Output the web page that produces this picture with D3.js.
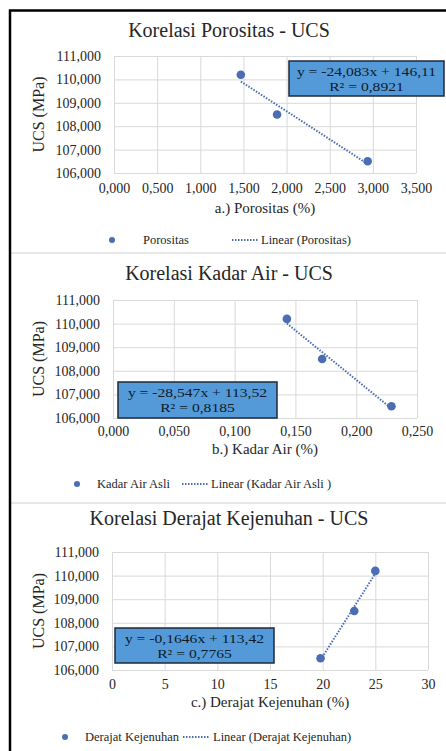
<!DOCTYPE html>
<html>
<head>
<meta charset="utf-8">
<script src="https://cdn.jsdelivr.net/npm/d3@7"></script>
<style>
body { margin: 0; background: #fff; }
text { font-family: "Liberation Serif", "Times New Roman", Tinos, "DejaVu Serif", serif; fill: #262626; }
</style>
</head>
<body>
<svg></svg>
<script>
// UCS (MPa) for the three samples, shared by all panels
var ucs = [110.2, 108.5, 106.5];
var porositas = [1.47, 1.89, 2.94];
var kadarAir = [0.143, 0.172, 0.229];
var derajatKejenuhan = [25.0, 23.0, 19.8];

var yTicks = [106, 107, 108, 109, 110, 111];
var porositasTicks = [0, 0.5, 1, 1.5, 2, 2.5, 3, 3.5];
var kadarAirTicks = [0, 0.05, 0.1, 0.15, 0.2, 0.25];
var derajatTicks = [0, 5, 10, 15, 20, 25, 30];

var titles = ["Korelasi Porositas - UCS", "Korelasi Kadar Air - UCS", "Korelasi Derajat Kejenuhan - UCS"];
var xTitles = ["a.) Porositas (%)", "b.) Kadar Air (%)", "c.) Derajat Kejenuhan (%)"];
var seriesNames = ["Porositas", "Kadar Air Asli", "Derajat Kejenuhan"];
var trendNames = ["Linear (Porositas)", "Linear (Kadar Air Asli )", "Linear (Derajat Kejenuhan)"];
var equations = [
   ["y = -24,083x + 146,11", "R\u00b2 = 0,8921"],
   ["y = -28,547x + 113,52", "R\u00b2 = 0,8185"],
   ["y = -0,1646x + 113,42", "R\u00b2 = 0,7765"]
];

var width = 446, height = 751;
var dotColor = "#4a6db3";
var gridColor = "#d9d9d9";
var serif = "'Liberation Serif', 'Times New Roman', Tinos, 'DejaVu Serif', serif";

var locale = d3.formatLocale({decimal: ",", thousands: ".", grouping: [3], currency: ["", ""]});

var svg = d3.select("svg")
   .attr("width", width)
   .attr("height", height);

svg.append("rect")
   .attr("width", width)
   .attr("height", height)
   .attr("fill", "#fff");

// layout of each panel
var panels = [
   {x: porositas, ticks: porositasTicks, fmt: ".3f",
    plot: {left: 114, right: 416, top: 56, bottom: 173},
    titleY: 30, tickY: 188, xTitleY: 208, legendY: 240,
    legend: {dot: 112, text: 143, line0: 232, line1: 258, trend: 261},
    box: {x: 289, y: 61, w: 155, h: 35}},
   {x: kadarAir, ticks: kadarAirTicks, fmt: ".3f",
    plot: {left: 113, right: 417, top: 300, bottom: 418},
    titleY: 273, tickY: 431, xTitleY: 449, legendY: 484,
    legend: {dot: 77, text: 97, line0: 182, line1: 208, trend: 211},
    box: {x: 118, y: 382, w: 159, h: 36}},
   {x: derajatKejenuhan, ticks: derajatTicks, fmt: "d",
    plot: {left: 112, right: 428, top: 552, bottom: 670},
    titleY: 518, tickY: 684, xTitleY: 702, legendY: 737,
    legend: {dot: 65, text: 85, line0: 183, line1: 210, trend: 213},
    box: {x: 115, y: 628, w: 159, h: 35}}
];

// separators between the panels
[253, 503].forEach(function(y) {
   svg.append("line")
      .attr("x1", 11).attr("x2", width)
      .attr("y1", y).attr("y2", y)
      .attr("stroke", "#d0d0d0");
});

panels.forEach(function(p, i) {
   var pw = p.plot.right - p.plot.left,
       ph = p.plot.bottom - p.plot.top;

   var xScale = d3.scaleLinear()
      .domain(d3.extent(p.ticks))
      .range([0, pw]);
   var yScale = d3.scaleLinear()
      .domain(d3.extent(yTicks))
      .range([ph, 0]);

   var g = svg.append("g")
      .attr("transform", "translate(" + p.plot.left + "," + p.plot.top + ")");

   // grid
   var xGrid = g.append("g")
      .attr("transform", "translate(0," + ph + ")")
      .call(d3.axisBottom(xScale).tickValues(p.ticks).tickSize(-ph).tickFormat(""));
   var yGrid = g.append("g")
      .call(d3.axisLeft(yScale).tickValues(yTicks).tickSize(-pw).tickFormat(""));
   [xGrid, yGrid].forEach(function(a) {
      a.select(".domain").remove();
      a.selectAll("line").attr("stroke", gridColor);
   });

   // tick labels
   var yAxis = g.append("g")
      .call(d3.axisLeft(yScale).tickValues(yTicks).tickSize(0).tickPadding(13)
         .tickFormat(locale.format(".3f")));
   var xAxis = g.append("g")
      .attr("transform", "translate(0," + ph + ")")
      .call(d3.axisBottom(xScale).tickValues(p.ticks).tickSize(0)
         .tickFormat(locale.format(p.fmt)));
   [xAxis, yAxis].forEach(function(a) {
      a.attr("font-family", serif);
      a.select(".domain").remove();
      a.selectAll("text")
         .attr("fill", "#262626")
         .style("font-size", "14px");
   });
   xAxis.selectAll("text")
      .attr("y", p.tickY - p.plot.bottom)
      .attr("dy", "0.35em");

   // trendline (least squares over the points)
   var pts = p.x.map(function(v, k) { return [v, ucs[k]]; });
   var mx = d3.mean(p.x), my = d3.mean(ucs);
   var slope = d3.sum(pts, function(d) { return (d[0] - mx) * (d[1] - my); }) /
      d3.sum(pts, function(d) { return (d[0] - mx) * (d[0] - mx); });
   var ext = d3.extent(p.x);
   g.append("line")
      .attr("x1", xScale(ext[0]))
      .attr("y1", yScale(my + slope * (ext[0] - mx)))
      .attr("x2", xScale(ext[1]))
      .attr("y2", yScale(my + slope * (ext[1] - mx)))
      .attr("stroke", dotColor)
      .attr("stroke-width", 2)
      .attr("stroke-dasharray", "1.5,1.5");

   // dots
   g.selectAll("circle")
      .data(pts)
      .enter()
      .append("circle")
      .attr("cx", function(d) { return xScale(d[0]); })
      .attr("cy", function(d) { return yScale(d[1]); })
      .attr("r", 4.3)
      .attr("fill", dotColor);

   // chart title
   svg.append("text")
      .attr("x", 229).attr("y", p.titleY)
      .attr("text-anchor", "middle")
      .attr("dominant-baseline", "central")
      .style("font-size", "20px")
      .text(titles[i]);

   // axis titles
   svg.append("text")
      .attr("x", p.plot.left + pw / 2).attr("y", p.xTitleY)
      .attr("text-anchor", "middle")
      .attr("dominant-baseline", "central")
      .style("font-size", "15px")
      .text(xTitles[i]);
   svg.append("text")
      .attr("transform", "translate(38," + (p.plot.top + ph / 2) + ") rotate(-90)")
      .attr("text-anchor", "middle")
      .attr("dominant-baseline", "central")
      .style("font-size", "16px")
      .text("UCS (MPa)");

   // equation label, text a bit wider than the font like in the source
   svg.append("rect")
      .attr("x", p.box.x).attr("y", p.box.y)
      .attr("width", p.box.w).attr("height", p.box.h)
      .attr("fill", "#559ad8")
      .attr("stroke", "#1e2a3a")
      .attr("stroke-width", 1.5);
   equations[i].forEach(function(line, k) {
      var t = svg.append("text")
         .attr("x", p.box.x + p.box.w / 2)
         .attr("y", p.box.y + p.box.h / 2 + (k - 0.5) * 15)
         .attr("text-anchor", "middle")
         .attr("dominant-baseline", "central")
         .style("font-size", "13px")
         .style("fill", "#0d1a2b")
         .text(line);
      var len = t.node().getComputedTextLength();
      t.attr("textLength", len * 1.2).attr("lengthAdjust", "spacingAndGlyphs");
   });

   // legend
   var lg = p.legend;
   svg.append("circle")
      .attr("cx", lg.dot).attr("cy", p.legendY)
      .attr("r", 3).attr("fill", dotColor);
   svg.append("text")
      .attr("x", lg.text).attr("y", p.legendY)
      .attr("dominant-baseline", "central")
      .style("font-size", "12.5px")
      .text(seriesNames[i]);
   svg.append("line")
      .attr("x1", lg.line0).attr("x2", lg.line1)
      .attr("y1", p.legendY).attr("y2", p.legendY)
      .attr("stroke", dotColor)
      .attr("stroke-width", 2)
      .attr("stroke-dasharray", "1.5,1.5");
   svg.append("text")
      .attr("x", lg.trend).attr("y", p.legendY)
      .attr("dominant-baseline", "central")
      .style("font-size", "12.5px")
      .text(trendNames[i]);
});

// outer frame (cut off on the right and bottom)
svg.append("rect")
   .attr("x", 10).attr("y", 10.5)
   .attr("width", 500).attr("height", 800)
   .attr("fill", "none")
   .attr("stroke", "#000")
   .attr("stroke-width", 2.5);
</script>
</body>
</html>
